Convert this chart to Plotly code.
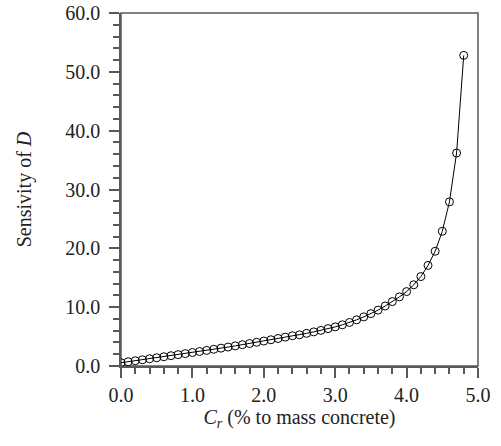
import plotly.graph_objects as go

cr = [round(0.1 * i, 1) for i in range(49)]
sensitivity = [
    0.55, 0.72, 0.89, 1.06, 1.23, 1.40, 1.57, 1.75, 1.93, 2.11,
    2.29, 2.47, 2.65, 2.84, 3.03, 3.22, 3.42, 3.62, 3.82, 4.03,
    4.24, 4.46, 4.68, 4.91, 5.14, 5.30, 5.55, 5.80, 6.05, 6.35,
    6.65, 7.00, 7.40, 7.85, 8.35, 8.90, 9.50, 10.20, 10.95, 11.75,
    12.65, 13.80, 15.20, 17.10, 19.50, 22.90, 27.90, 36.20, 52.80,
]
x_ticks = [0, 1, 2, 3, 4, 5]
x_tick_labels = ["0.0", "1.0", "2.0", "3.0", "4.0", "5.0"]
y_ticks = [0, 10, 20, 30, 40, 50, 60]
y_tick_labels = ["0.0", "10.0", "20.0", "30.0", "40.0", "50.0", "60.0"]

FONT = "Liberation Serif, Times New Roman, Times, serif"
TXT = "#222222"
AX = "#595959"

fig = go.Figure()
fig.add_trace(go.Scatter(
    x=cr, y=sensitivity, mode="lines+markers",
    line=dict(color="black", width=1),
    marker=dict(symbol="circle-open", size=8, color="black", line=dict(width=1)),
    showlegend=False,
))

axis_common = dict(
    showline=True, linecolor=AX, linewidth=1.5, mirror=False,
    ticks="outside", ticklen=10, tickwidth=1.5, tickcolor=AX,
    showgrid=False, zeroline=False, automargin=False,
    tickfont=dict(family=FONT, size=20, color=TXT),
)

fig.update_xaxes(
    range=[0, 5], tickvals=x_ticks, ticktext=x_tick_labels,
    minor=dict(dtick=0.2, ticks="outside", ticklen=6, tickwidth=1.5, tickcolor=AX, showgrid=False),
    title=dict(text="<i>C<sub>r</sub></i> (% to mass concrete)",
               font=dict(family=FONT, size=20, color=TXT), standoff=2),
    ticklabelstandoff=0,
    **axis_common,
)
fig.update_yaxes(
    range=[0, 60], tickvals=y_ticks, ticktext=y_tick_labels,
    minor=dict(dtick=2, ticks="outside", ticklen=6, tickwidth=1.5, tickcolor=AX, showgrid=False),
    title=dict(text="Sensivity of <i>D</i>",
               font=dict(family=FONT, size=20, color=TXT), standoff=28),
    ticklabelstandoff=5,
    **axis_common,
)

# frame (top and right edges)
fig.add_shape(type="rect", xref="paper", yref="paper", x0=0, y0=0, x1=1, y1=1,
              line=dict(color=AX, width=1.5), layer="below")

fig.update_layout(
    width=501, height=446,
    margin=dict(l=121, r=23, t=13, b=80, autoexpand=False),
    paper_bgcolor="white", plot_bgcolor="white",
    font=dict(family=FONT),
)

fig.write_html("out.html")
